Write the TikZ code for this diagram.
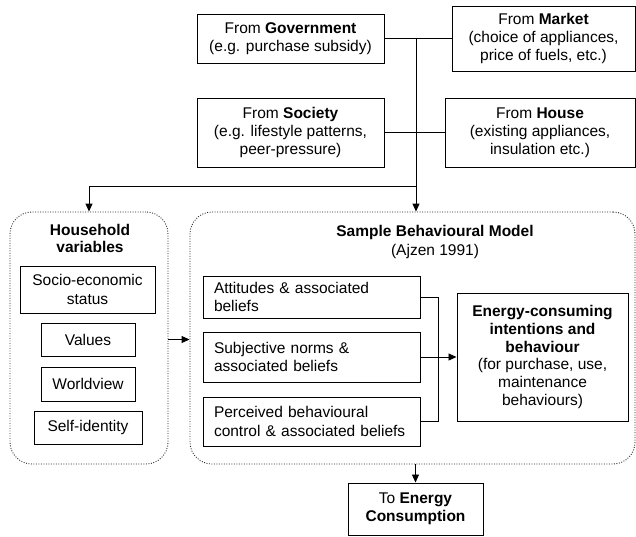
\documentclass[tikz,border=0pt]{standalone}
\usepackage{fontspec}
\setmainfont{Liberation Sans}
\usetikzlibrary{arrows.meta,calc}
\begin{document}
\begin{tikzpicture}[x=1pt,y=-1pt,
  font=\fontsize{15.5}{18.2}\selectfont,
  box/.style={draw, line width=1pt, inner sep=0pt, align=center},
  lbox/.style={draw, line width=1pt, inner xsep=11pt, inner ysep=0pt, text width=195pt, align=left, minimum width=217pt},
  grp/.style={draw=black!85, line width=0.9pt, dash pattern=on 0.9pt off 1.6pt, rounded corners=22pt, inner sep=0pt},
  conn/.style={line width=0.9pt},
  arr/.style={conn, -{Triangle[length=8pt,width=7pt]}},
]
\useasboundingbox (0,0) rectangle (636,536);

% source boxes
\node[box, minimum width=187pt, minimum height=49pt] (gov) at (290.5,38.5) {From \textbf{Government}\\(e.g. purchase subsidy)};
\node[box, minimum width=183pt, minimum height=65pt] (market) at (543.5,38.5) {From \textbf{Market}\\(choice of appliances,\\price of fuels, etc.)};
\node[box, minimum width=187pt, minimum height=69pt] (society) at (290.5,132.5) {From \textbf{Society}\\(e.g. lifestyle patterns,\\peer-pressure)};
\node[box, minimum width=190pt, minimum height=69pt] (house) at (540,132.5) {From \textbf{House}\\(existing appliances,\\insulation etc.)};

% groups
\node[grp, minimum width=158pt, minimum height=252pt] (hh) at (89,338) {};
\node[grp, minimum width=445pt, minimum height=252pt] (model) at (412.5,338) {};

% household contents
\node[align=center, font=\fontsize{15.5}{17.5}\selectfont\bfseries] (hhtitle) at (90,238.5) {Household\\variables};
\node[box, minimum width=135pt, minimum height=47pt] (socio) at (87.5,289.5) {Socio-economic\\status};
\node[box, minimum width=94pt, minimum height=33pt] (values) at (88,339.5) {Values};
\node[box, minimum width=94pt, minimum height=34pt] (world) at (88,384) {Worldview};
\node[box, minimum width=108pt, minimum height=33pt] (self) at (88,427.5) {Self-identity};

% model contents
\node[align=center] (mtitle) at (435,242) {\textbf{Sample Behavioural Model}\\(Ajzen 1991)};
\node[lbox, minimum height=42pt] (att) at (311.5,297) {Attitudes \& associated\\beliefs};
\node[lbox, minimum height=50pt] (subj) at (311.5,357) {Subjective norms \&\\associated beliefs};
\node[lbox, minimum height=49pt] (perc) at (311.5,421.5) {Perceived behavioural\\control \& associated beliefs};
\node[box, minimum width=171pt, minimum height=128pt, font=\fontsize{15.5}{17.8}\selectfont] (energy) at (542.5,357) {\textbf{Energy-consuming}\\\textbf{intentions and}\\\textbf{behaviour}\\(for purchase, use,\\maintenance\\behaviours)};

% output
\node[box, minimum width=135pt, minimum height=52pt] (cons) at (415.5,509) {To \textbf{Energy}\\\textbf{Consumption}};

% connectors
\coordinate (t1) at (416,38.5);
\coordinate (t2) at (416,186);
\draw[conn] (gov.east) -- (market.west);
\draw[conn] (society.east) -- (house.west);
\draw[conn] (t1) -- (t2);
\draw[arr] (t2) -- (t2 |- model.north);
\draw[arr] (t2) -| (hh.north);
\draw[arr] (values -| hh.east) -- (values -| model.west);
\draw[conn] (att.east) -- ++(18,0) |- (perc.east);
\draw[arr] (subj.east) -- (energy.west);
\draw[arr] (cons.north |- model.south) -- (cons.north);
\end{tikzpicture}
\end{document}
